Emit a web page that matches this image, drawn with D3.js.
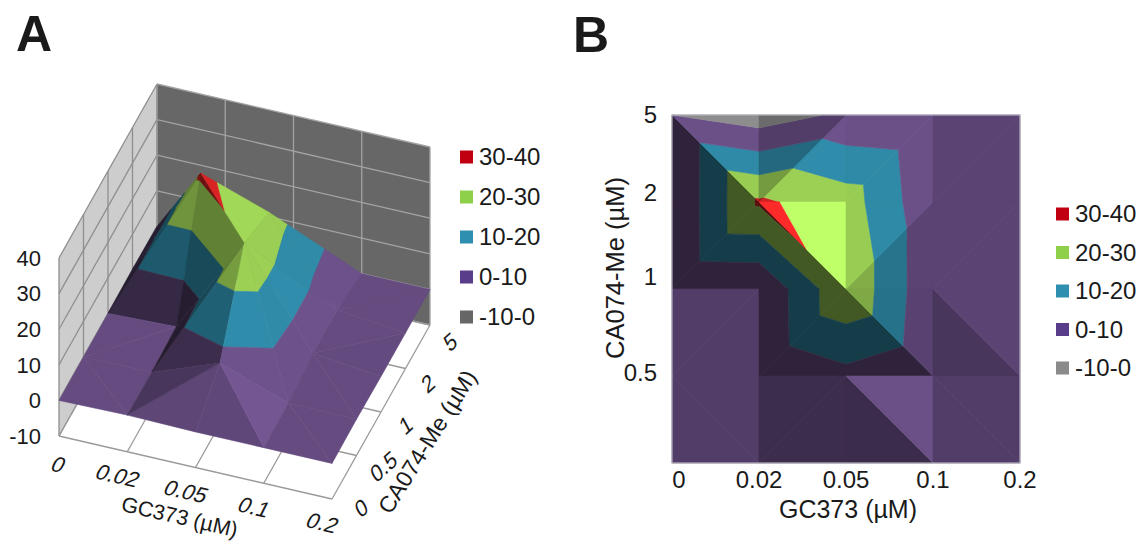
<!DOCTYPE html>
<html>
<head>
<meta charset="utf-8">
<script src="https://cdnjs.cloudflare.com/ajax/libs/d3/7.8.5/d3.min.js"></script>
<style>
	html, body { margin: 0; padding: 0; background: #fff; }
	svg { display: block; }
	text { font-family: "Liberation Sans", Arial, sans-serif; fill: #1a1a1a; }
</style>
</head>
<body>
<svg id="chart" width="1144" height="544"></svg>
<script>
var gc373Labels = ["0", "0.02", "0.05", "0.1", "0.2"];
var ca074Labels = ["0", "0.5", "1", "2", "5"];
var ca074LabelsB = ["5", "2", "1", "0.5"];
var zTicks = [-10, 0, 10, 20, 30, 40];

// one row per CA074-Me dose, one column per GC373 dose
var rowCa0 = [0, 0.3, 0, 0, 0];
var rowCa05 = [0, 0.1, 7.1, 0.3, 0.2];
var rowCa1 = [0, 0.7, 28.7, 2.1, 0];
var rowCa2 = [0.2, 31.6, 25, 2, 0];
var rowCa5 = [0, -5.5, 2, 0, 0];
var surface = [rowCa0, rowCa05, rowCa1, rowCa2, rowCa5];

var bandLow = [30, 20, 10, 0, -10];
var bandHigh = [40, 30, 20, 10, 0];
var bandNames = ["30-40", "20-30", "10-20", "0-10", "-10-0"];
var bandColors = ["#ff2a2a", "#bfff68", "#3aacd0", "#8664aa", "#b0b0b0"];
var legendColorsA = ["#c00010", "#8fd04a", "#2f8fb0", "#5a3d8a", "#666666"];
var legendColorsB = ["#c00010", "#8fd04a", "#2f8fb0", "#5a3d8a", "#8a8a8a"];

var svg = d3.select("#chart");

var xIndex = d3.scalePoint().domain(gc373Labels).range([0, 4]);
var yIndex = d3.scalePoint().domain(ca074Labels).range([0, 4]);

// panel A is an oblique projection of the unit floor, taken from the wall corners
var floorOrigin = [59, 436];
var floorX = [273, 63];
var floorY = [98, -174];
var zLift = d3.scaleLinear().domain([-10, 40]).range([0, -178]);
var toUnit = d3.scaleLinear().domain([0, 4]).range([0, 1]);

function projectA(i, j, z)
{
	var u = toUnit(i), v = toUnit(j);
	return [
		floorOrigin[0] + u * floorX[0] + v * floorY[0],
		floorOrigin[1] + u * floorX[1] + v * floorY[1] + zLift(z)
	];
}

// panel B looks straight down
var bX = d3.scaleLinear().domain([0, 4]).range([672, 1020]);
var bY = d3.scaleLinear().domain([0, 4]).range([463, 115]);

function projectB(i, j)
{
	return [bX(i), bY(j)];
}

var lightA = normalize([0.6, 0.1, 0.79]);
var lightB = normalize([0.55, 0.55, 0.62]);
var shadeA = d3.scaleLinear()
	.domain([-0.3, 0.06, 0.14, 0.31, 0.39, 0.57, 0.6, 0.7, 0.8, 0.84, 0.87, 0.89, 0.92, 0.97, 0.99])
	.range([0.42, 0.56, 0.52, 0.62, 0.82, 0.74, 0.72, 0.75, 0.75, 0.82, 0.82, 0.75, 0.75, 0.84, 0.86])
	.clamp(true);
var shadeB = d3.scaleLinear()
	.domain([0, 0.2, 0.5, 0.58, 0.64, 0.72, 0.745, 0.755, 0.83, 0.88, 0.95])
	.range([0.35, 0.45, 0.52, 0.61, 0.61, 0.68, 0.68, 0.8, 0.8, 0.82, 1])
	.clamp(true);

// panel A: the dim faces drop faster in the purple band than in the green one
var contrastA = [1, 0.7, 1, 1.7, 1];
var contrastB = [1, 1, 1, 1, 1];

function normalize(v)
{
	var n = Math.sqrt(v[0] * v[0] + v[1] * v[1] + v[2] * v[2]);
	return [v[0] / n, v[1] / n, v[2] / n];
}

// split each cell along the diagonal that runs through its highest corner
function cellTriangles(i, j)
{
	var a = [i, j, surface[j][i]];
	var b = [i + 1, j, surface[j][i + 1]];
	var c = [i + 1, j + 1, surface[j + 1][i + 1]];
	var d = [i, j + 1, surface[j + 1][i]];
	var top = d3.max([a[2], b[2], c[2], d[2]]);

	if(a[2] === top || c[2] === top)
	{
		return [[a, b, c], [a, c, d]];
	}
	return [[d, a, b], [d, b, c]];
}

function clipBand(poly, limit, keepAbove)
{
	var out = [];
	poly.forEach(function(p, n) {
		var q = poly[(n + 1) % poly.length];
		var pIn = keepAbove ? p[2] >= limit : p[2] <= limit;
		var qIn = keepAbove ? q[2] >= limit : q[2] <= limit;
		if(pIn)
		{
			out.push(p);
		}
		if(pIn !== qIn)
		{
			var t = (limit - p[2]) / (q[2] - p[2]);
			out.push([p[0] + (q[0] - p[0]) * t, p[1] + (q[1] - p[1]) * t, limit]);
		}
	});
	return out;
}

function faceNormal(tri)
{
	var k = 0.1;
	var ax = tri[1][0] - tri[0][0], ay = tri[1][1] - tri[0][1], az = (tri[1][2] - tri[0][2]) * k;
	var bx = tri[2][0] - tri[0][0], by = tri[2][1] - tri[0][1], bz = (tri[2][2] - tri[0][2]) * k;
	var n = [ay * bz - az * by, az * bx - ax * bz, ax * by - ay * bx];
	if(n[2] < 0)
	{
		n = [-n[0], -n[1], -n[2]];
	}
	return normalize(n);
}

function faceIsBack(tri, project)
{
	// triangles are wound counter-clockwise on the grid, the floor itself gives the reference sign
	var floor = d3.polygonArea([project(0, 0, 0), project(1, 0, 0), project(1, 1, 0)]);
	var area = d3.polygonArea(tri.map(function(p) { return project(p[0], p[1], p[2]); }));
	return floor * area < 0;
}

function surfaceFacets(light, shade, project, contrast)
{
	var facets = [];

	// back cells first so the nearer ones paint over them
	d3.range(3, -1, -1).forEach(function(j) {
		d3.range(0, 4).forEach(function(i) {
			cellTriangles(i, j).forEach(function(tri) {
				if(faceIsBack(tri, project))
				{
					return;
				}
				var n = faceNormal(tri);
				var f = shade(n[0] * light[0] + n[1] * light[1] + n[2] * light[2]);
				bandLow.forEach(function(low, b) {
					var poly = clipBand(clipBand(tri, low, true), bandHigh[b], false);
					if(poly.length > 2)
					{
						var c = d3.rgb(bandColors[b]);
						var g = f < 0.75 ? 0.75 * Math.pow(f / 0.75, contrast[b]) : f;
						facets.push({
							poly: poly,
							color: d3.rgb(c.r * g, c.g * g, c.b * g).formatHex()
						});
					}
				});
			});
		});
	});
	return facets;
}

function drawFacets(group, facets, project)
{
	var line = d3.line();
	group.selectAll("path")
		.data(facets.filter(function(d) {
			return Math.abs(d3.polygonArea(d.poly.map(function(p) { return project(p[0], p[1], p[2]); }))) > 0.01;
		}))
		.join("path")
		.attr("d", function(d) {
			return line(d.poly.map(function(p) { return project(p[0], p[1], p[2]); })) + "Z";
		})
		.attr("fill", function(d) { return d.color; })
		.attr("stroke", function(d) { return d.color; })
		.attr("stroke-width", 0.6)
		.attr("stroke-linejoin", "round");
}

function wallLine(group, from, to, color, width)
{
	group.append("line")
		.attr("x1", from[0]).attr("y1", from[1])
		.attr("x2", to[0]).attr("y2", to[1])
		.attr("stroke", color)
		.attr("stroke-width", width);
}

function drawWallsA(group)
{
	var line = d3.line();
	var backWall = [projectA(0, 4, -10), projectA(4, 4, -10), projectA(4, 4, 40), projectA(0, 4, 40)];
	var sideWall = [projectA(0, 0, -10), projectA(0, 4, -10), projectA(0, 4, 40), projectA(0, 0, 40)];
	var steps = d3.range(0, 5);

	group.append("path").attr("d", line(backWall) + "Z").attr("fill", "#676767");
	group.append("path").attr("d", line(sideWall) + "Z").attr("fill", "#cdcdcd");

	zTicks.forEach(function(z) {
		wallLine(group, projectA(0, 4, z), projectA(4, 4, z), "#a3a3a3", 1.3);
		wallLine(group, projectA(0, 0, z), projectA(0, 4, z), "#8f8f8f", 1.3);
	});
	steps.forEach(function(s) {
		wallLine(group, projectA(s, 4, -10), projectA(s, 4, 40), "#a3a3a3", 1.3);
		wallLine(group, projectA(0, s, -10), projectA(0, s, 40), "#8f8f8f", 1.3);
		wallLine(group, projectA(s, 0, -10), projectA(s, 4, -10), "#9a9a9a", 1.3);
		wallLine(group, projectA(0, s, -10), projectA(4, s, -10), "#9a9a9a", 1.3);
	});
}

function drawLegend(group, colors, x, ys, size, textX, fontSize)
{
	var rows = group.selectAll("g").data(bandNames).join("g")
		.attr("transform", function(d, n) { return "translate(0," + ys(n) + ")"; });

	rows.append("rect")
		.attr("x", x).attr("y", -size / 2)
		.attr("width", size).attr("height", size)
		.attr("fill", function(d, n) { return colors[n]; });

	rows.append("text")
		.attr("x", textX).attr("dy", "0.35em")
		.attr("font-size", fontSize)
		.text(function(d) { return d; });
}

// panel letters
svg.append("text").attr("x", 16).attr("y", 51).attr("font-size", 50).attr("font-weight", "bold").text("A");
svg.append("text").attr("x", 573).attr("y", 52).attr("font-size", 50).attr("font-weight", "bold").text("B");

// panel A
var panelA = svg.append("g");
drawWallsA(panelA.append("g"));
drawFacets(panelA.append("g"), surfaceFacets(lightA, shadeA, projectA, contrastA), projectA);

panelA.append("g").selectAll("text").data(zTicks).join("text")
	.attr("x", 41)
	.attr("y", function(d) { return projectA(0, 0, d)[1]; })
	.attr("dy", "0.35em")
	.attr("text-anchor", "end")
	.attr("font-size", 22)
	.text(function(d) { return d; });

panelA.append("g").selectAll("text").data(gc373Labels).join("text")
	.attr("text-anchor", "middle")
	.attr("font-size", 22)
	.attr("transform", function(d) {
		var p = projectA(xIndex(d), 0, -10);
		var nudge = d === "0" ? 9 : 0;
		return "translate(" + (p[0] - 13 + nudge) + "," + (p[1] + 31 + nudge / 2) + ") rotate(13) skewX(-14)";
	})
	.text(function(d) { return d; });

panelA.append("g").selectAll("text").data(ca074Labels).join("text")
	.attr("text-anchor", "middle")
	.attr("font-size", 22)
	.attr("transform", function(d) {
		var j = yIndex(d);
		var p = projectA(4, j, -10);
		return "translate(" + (p[0] + 33 - 2.25 * j) + "," + (p[1] + 16 + 2 * j) + ") rotate(-42) skewX(-14)";
	})
	.text(function(d) { return d; });

svg.append("text").attr("text-anchor", "middle").attr("font-size", 21.5)
	.attr("transform", "translate(178,524) rotate(13)").text("GC373 (µM)");
svg.append("text").attr("text-anchor", "middle").attr("font-size", 23)
	.attr("transform", "translate(434,446) rotate(-58)").text("CA074-Me (µM)");

drawLegend(svg.append("g"), legendColorsA, 460,
	d3.scaleLinear().domain([0, 4]).range([157, 317]), 13, 479, 24);

// panel B
var panelB = svg.append("g");
drawFacets(panelB.append("g"), surfaceFacets(lightB, shadeB, projectB, contrastB), projectB);
panelB.append("rect")
	.attr("x", bX(0)).attr("y", bY(4))
	.attr("width", bX(4) - bX(0)).attr("height", bY(0) - bY(4))
	.attr("fill", "none").attr("stroke", "#b4b2bc").attr("stroke-width", 1.2);

panelB.append("g").selectAll("text").data(gc373Labels).join("text")
	.attr("x", function(d) { return d === "0" ? bX(0) + 7 : bX(xIndex(d)); })
	.attr("y", 488)
	.attr("text-anchor", "middle")
	.attr("font-size", 24)
	.text(function(d) { return d; });

var bTickY = d3.scaleOrdinal().domain(ca074LabelsB).range([115, 193, 277, 373]);
panelB.append("g").selectAll("text").data(ca074LabelsB).join("text")
	.attr("x", 657)
	.attr("y", function(d) { return bTickY(d); })
	.attr("dy", "0.35em")
	.attr("text-anchor", "end")
	.attr("font-size", 24)
	.text(function(d) { return d; });

svg.append("text").attr("x", 848).attr("y", 518).attr("text-anchor", "middle")
	.attr("font-size", 25).text("GC373 (µM)");
svg.append("text").attr("text-anchor", "middle").attr("font-size", 25.5)
	.attr("transform", "translate(624,268) rotate(-90)").text("CA074-Me (µM)");

drawLegend(svg.append("g"), legendColorsB, 1056,
	d3.scaleLinear().domain([0, 4]).range([214, 368]), 13, 1075, 24);
</script>
</body>
</html>
